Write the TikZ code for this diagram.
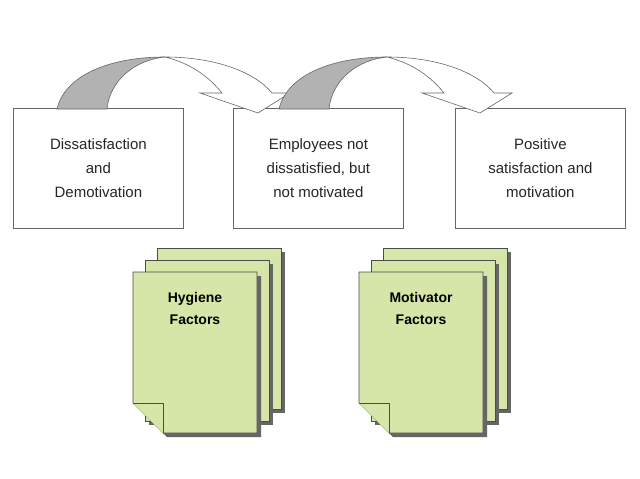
\documentclass[tikz,border=0pt]{standalone}
\usepackage{fontspec}
\setmainfont{Liberation Sans}
\definecolor{pg}{RGB}{214,230,168}
\begin{document}
\begin{tikzpicture}[x=1pt,y=-1pt,
  box/.style={draw=gray!80!black,fill=white,line width=0.8pt,minimum width=170pt,minimum height=120pt,align=center,font=\fontsize{15}{24}\selectfont,text=black!85,anchor=north west,inner sep=0pt},
  page/.style={draw=black!70,fill=pg,line width=0.6pt},
  pshadow/.style={fill=black!60},
  arr/.style={draw=black!60,line width=0.6pt}]
\useasboundingbox (0,0) rectangle (640,479);
\node[box] (b1) at (13,108) {Dissatisfaction\\and\\Demotivation};
\node[box] (b2) at (233,108) {Employees not\\dissatisfied, but\\not motivated};
\node[box] (b3) at (455,108) {Positive\\satisfaction and\\motivation};
% arrows
\foreach \dx in {0,222}{
\begin{scope}[xshift=\dx]
\path[fill=white,arr] (165,57) .. controls (215,57) and (255,72) .. (272,93) -- (290,93) -- (258,113) -- (200,93) -- (222,93) .. controls (205,72) and (185,62) .. (165,57) -- cycle;
\path[fill=black!30,arr] (57,109) .. controls (65,75) and (110,57) .. (165,57) .. controls (135,60) and (110,80) .. (107,109) -- cycle;
\end{scope}}
% document stacks
\foreach \px/\nm/\lab in {133/h/{Hygiene\\Factors},359/m/{Motivator\\Factors}}{
  \foreach \o in {24,12}{
    \fill[pshadow] (\px+\o+4,272-\o+4) rectangle (\px+\o+128,272-\o+165);
    \draw[page] (\px+\o,272-\o) rectangle (\px+\o+124,272-\o+161);
  }
  \fill[pshadow] (\px+4,276) -- (\px+128,276) -- (\px+128,437) -- (\px+34,437) -- (\px+4,407) -- cycle;
  \draw[page] (\px,272) -- (\px+124,272) -- (\px+124,433) -- (\px+30,433) -- (\px,403) -- cycle;
  \draw[page] (\px,403) -- (\px+30,403) -- (\px+30,433);
  \node[font=\bfseries\fontsize{14}{22}\selectfont,align=center,anchor=north] (\nm) at (\px+62,289) {\lab};
}
\end{tikzpicture}
\end{document}
